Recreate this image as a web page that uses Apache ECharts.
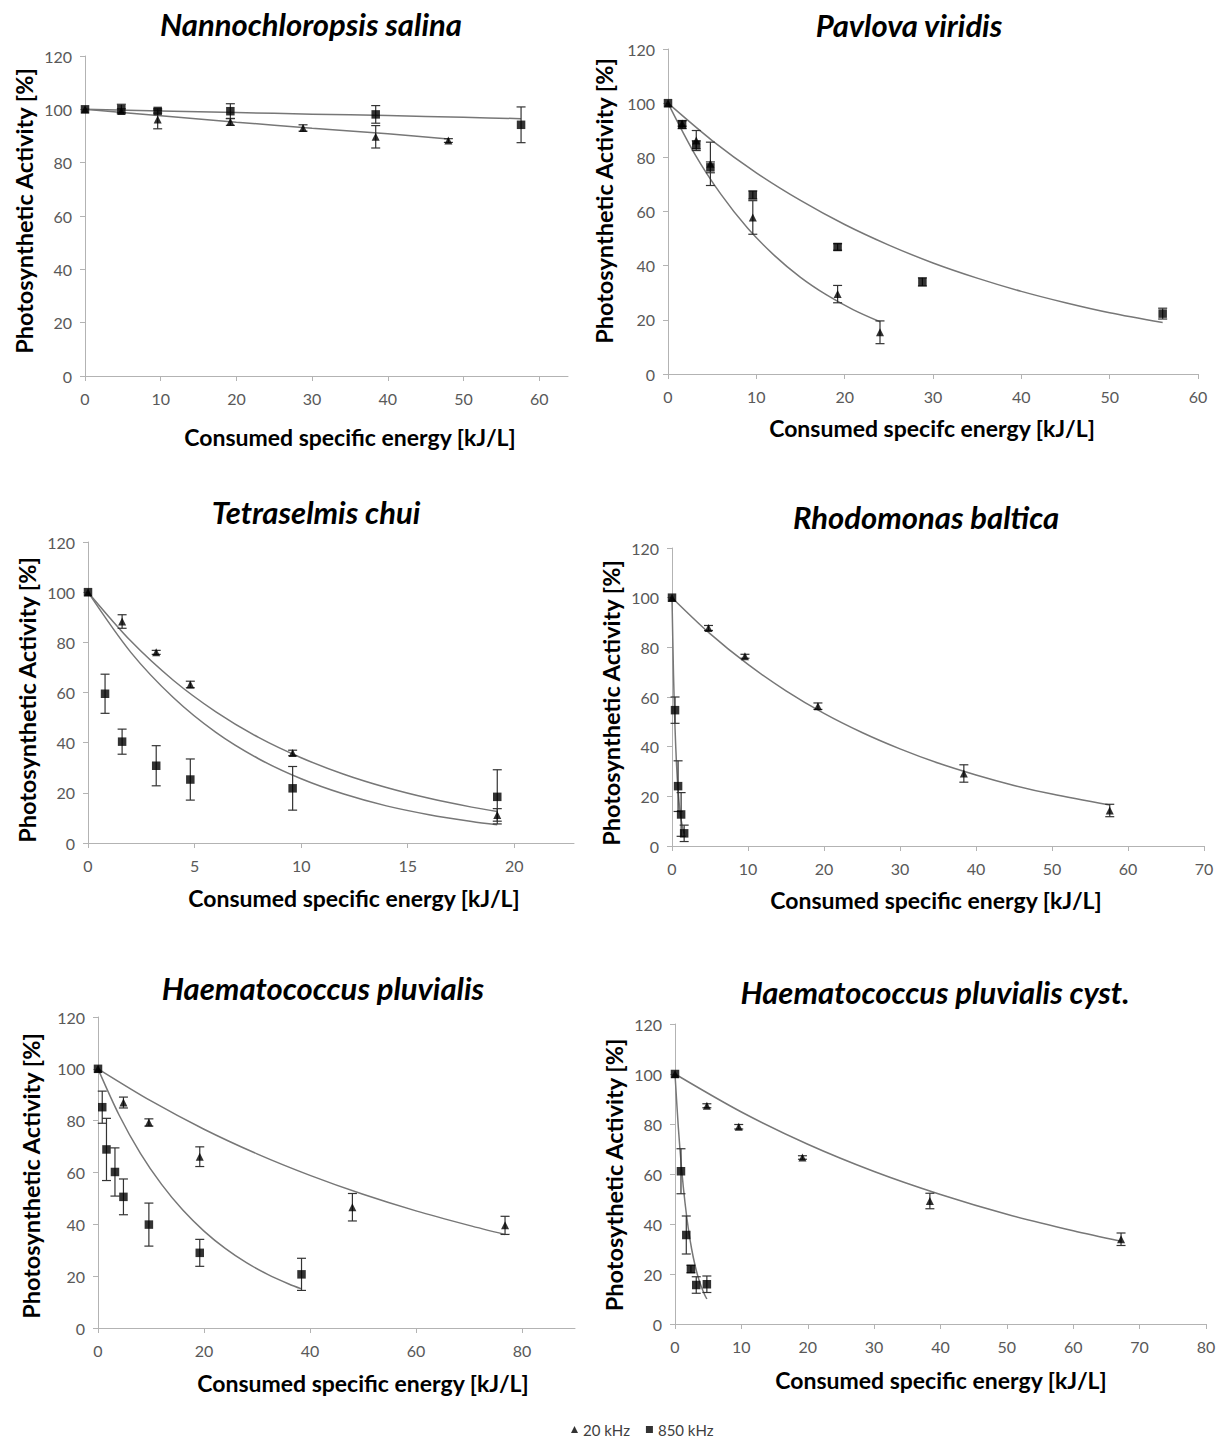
<!DOCTYPE html>
<html>
<head>
<meta charset="utf-8">
<script src="https://cdn.jsdelivr.net/npm/echarts@6/dist/echarts.min.js"></script>
<style>
html,body{margin:0;padding:0;background:#fff;}
#chart{width:1221px;height:1437px;}
</style>
</head>
<body>
<div id="chart"></div>
<script>
// ---------------- DATA ----------------
const legendNames = ['20 kHz', '850 kHz'];
const yTickLabels = [0, 20, 40, 60, 80, 100, 120];
const yAxisTitle = 'Photosynthetic Activity [%]';
const yAxisTitleCyst = 'Photosythetic Activity [%]';
const xAxisTitle = 'Consumed specific energy [kJ/L]';
const xAxisTitleP2 = 'Consumed specifc energy [kJ/L]';

// Panel 1: Nannochloropsis salina
const p1Title = 'Nannochloropsis salina';
const p1XTicks = [0, 10, 20, 30, 40, 50, 60];
const p1TriX = [0, 4.8, 9.6, 19.2, 28.8, 38.4, 48];
const p1TriY = [100, 99.4, 96.2, 95.3, 93.0, 89.7, 88.3];
const p1TriE = [0, 0.8, 3.5, 1.3, 1.2, 4.2, 0.7];
const p1SqX = [0, 4.8, 9.6, 19.2, 38.4, 57.6];
const p1SqY = [100, 100.1, 99.4, 99.3, 98.1, 94.2];
const p1SqE = [0, 1.8, 0.8, 2.8, 3.3, 6.7];
const p1TriFitX = [0, 10, 20, 30, 40, 48];
const p1TriFitY = [100, 97.6, 95.2, 92.9, 90.8, 88.9];
const p1SqFitX = [0, 10, 20, 30, 40, 50, 57.6];
const p1SqFitY = [100, 99.4, 98.8, 98.2, 97.7, 97.0, 96.5];

// Panel 2: Pavlova viridis
const p2Title = 'Pavlova viridis';
const p2XTicks = [0, 10, 20, 30, 40, 50, 60];
const p2TriX = [0, 1.6, 3.2, 4.8, 9.6, 19.2, 24];
const p2TriY = [100, 92.5, 86.2, 77.6, 57.8, 29.5, 15.4];
const p2TriE = [0, 1.0, 3.7, 8.0, 6.2, 3.2, 4.2];
const p2SqX = [0, 1.6, 3.2, 4.8, 9.6, 19.2, 28.8, 56];
const p2SqY = [100, 92.1, 84.6, 76.3, 66.1, 46.9, 34.0, 22.3];
const p2SqE = [0, 1.5, 1.5, 2.0, 1.5, 1.2, 1.5, 2.0];
const p2TriFitX = [0, 3, 6, 9, 12, 15, 18, 21, 24];
const p2TriFitY = [100, 81.4, 66.3, 53.9, 43.9, 35.7, 29.1, 23.7, 19.3];
const p2SqFitX = [0, 5, 10, 15, 20, 25, 30, 35, 40, 45, 50, 56];
const p2SqFitY = [100, 86.2, 74.3, 64.1, 55.2, 47.6, 41.0, 35.4, 30.5, 26.3, 22.6, 19.0];

// Panel 3: Tetraselmis chui
const p3Title = 'Tetraselmis chui';
const p3XTicks = [0, 5, 10, 15, 20];
const p3TriX = [0, 1.6, 3.2, 4.8, 9.6, 19.2];
const p3TriY = [100, 88.3, 76.0, 63.2, 35.9, 11.2];
const p3TriE = [0, 2.7, 0.8, 1.3, 1.1, 2.5];
const p3SqX = [0, 0.8, 1.6, 3.2, 4.8, 9.6, 19.2];
const p3SqY = [100, 59.5, 40.4, 30.8, 25.3, 21.8, 18.4];
const p3SqE = [0, 7.8, 5.0, 8.0, 8.2, 8.7, 10.8];
const p3TriFitX = [0, 2, 4, 6, 8, 10, 12, 14, 16, 18, 19.2];
const p3TriFitY = [100, 80.6, 64.9, 52.3, 42.1, 34.0, 27.4, 22.1, 17.8, 14.3, 12.6];
const p3SqFitX = [0, 2, 4, 6, 8, 10, 12, 14, 16, 18, 19.2];
const p3SqFitY = [100, 76.1, 58.0, 44.1, 33.6, 25.6, 19.5, 14.8, 11.3, 8.6, 7.3];

// Panel 4: Rhodomonas baltica
const p4Title = 'Rhodomonas baltica';
const p4XTicks = [0, 10, 20, 30, 40, 50, 60, 70];
const p4TriX = [0, 4.8, 9.6, 19.2, 38.4, 57.6];
const p4TriY = [100, 87.8, 76.4, 56.3, 29.2, 14.3];
const p4TriE = [0, 1.0, 0.8, 1.3, 3.5, 2.5];
const p4SqX = [0, 0.4, 0.8, 1.2, 1.6];
const p4SqY = [100, 54.7, 24.1, 12.7, 5.1];
const p4SqE = [0, 5.3, 10.2, 8.8, 3.3];
const p4TriFitX = [0, 5, 10, 15, 20, 25, 30, 35, 40, 45, 50, 57.6];
const p4TriFitY = [100, 85.5, 73.1, 62.5, 53.4, 45.7, 39.1, 33.4, 28.6, 24.4, 20.9, 16.5];
const p4SqFitX = [0, 0.2, 0.4, 0.6, 0.8, 1.0, 1.2, 1.4, 1.6];
const p4SqFitY = [100, 68.8, 47.3, 32.6, 22.4, 15.4, 10.6, 7.3, 5.0];

// Panel 5: Haematococcus pluvialis
const p5Title = 'Haematococcus pluvialis';
const p5XTicks = [0, 20, 40, 60, 80];
const p5TriX = [0, 4.8, 9.6, 19.2, 48, 76.8];
const p5TriY = [100, 87.0, 79.3, 66.1, 46.6, 39.6];
const p5TriE = [0, 2.1, 1.4, 3.8, 5.3, 3.5];
const p5SqX = [0, 0.8, 1.6, 3.2, 4.8, 9.6, 19.2, 38.4];
const p5SqY = [100, 85.2, 68.9, 60.2, 50.6, 39.9, 29.0, 20.7];
const p5SqE = [0, 6.2, 12.0, 9.3, 6.9, 8.3, 5.2, 6.2];
const p5TriFitX = [0, 10, 20, 30, 40, 50, 60, 70, 76.8];
const p5TriFitY = [100, 87.6, 76.7, 67.2, 58.9, 51.6, 45.2, 39.6, 36.1];
const p5SqFitX = [0, 4, 8, 12, 16, 20, 24, 28, 32, 36, 38.4];
const p5SqFitY = [100, 82.1, 67.4, 55.4, 45.5, 37.4, 30.7, 25.2, 20.7, 17.0, 15.1];

// Panel 6: Haematococcus pluvialis cyst.
const p6Title = 'Haematococcus pluvialis cyst.';
const p6XTicks = [0, 10, 20, 30, 40, 50, 60, 70, 80];
const p6TriX = [0, 4.8, 9.6, 19.2, 38.4, 67.2];
const p6TriY = [100, 87.3, 78.9, 66.6, 49.2, 33.9];
const p6TriE = [0, 0.8, 0.9, 0.7, 3.1, 2.5];
const p6SqX = [0, 0.9, 1.7, 2.4, 3.2, 4.8];
const p6SqY = [100, 61.1, 35.6, 22.0, 15.6, 15.9];
const p6SqE = [0, 9.0, 7.6, 1.5, 3.3, 3.3];
const p6TriFitX = [0, 10, 20, 30, 40, 50, 60, 67.2];
const p6TriFitY = [100, 84.8, 71.9, 61.0, 51.8, 43.9, 37.3, 33.1];
const p6SqFitX = [0, 0.5, 1, 1.5, 2, 2.5, 3, 3.5, 4, 4.5, 4.8];
const p6SqFitY = [100, 78.7, 61.9, 48.7, 38.3, 30.1, 23.7, 18.6, 14.7, 11.5, 10.0];

// ---------------- LAYOUT (positions & styles) ----------------
const panels = [
  {title: p1Title, xt: p1XTicks, max: 63.8, interval: 10, tri: [p1TriX, p1TriY, p1TriE], sq: [p1SqX, p1SqY, p1SqE], triFit: [p1TriFitX, p1TriFitY], sqFit: [p1SqFitX, p1SqFitY],
   grid: {left: 85, top: 56, width: 483, height: 320}, titlePos: [311, 24], yName: yAxisTitle, yNamePos: [24, 211], xName: xAxisTitle, xNamePos: [350, 437]},
  {title: p2Title, xt: p2XTicks, max: 60, interval: 10, tri: [p2TriX, p2TriY, p2TriE], sq: [p2SqX, p2SqY, p2SqE], triFit: [p2TriFitX, p2TriFitY], sqFit: [p2SqFitX, p2SqFitY],
   grid: {left: 668, top: 49, width: 530, height: 325}, titlePos: [909, 25], yName: yAxisTitle, yNamePos: [604, 201], xName: xAxisTitleP2, xNamePos: [932, 428]},
  {title: p3Title, xt: p3XTicks, max: 22.8, interval: 5, tri: [p3TriX, p3TriY, p3TriE], sq: [p3SqX, p3SqY, p3SqE], triFit: [p3TriFitX, p3TriFitY], sqFit: [p3SqFitX, p3SqFitY],
   grid: {left: 88, top: 542, width: 486, height: 301}, titlePos: [316, 512], yName: yAxisTitle, yNamePos: [27, 700], xName: xAxisTitle, xNamePos: [354, 898]},
  {title: p4Title, xt: p4XTicks, max: 70, interval: 10, tri: [p4TriX, p4TriY, p4TriE], sq: [p4SqX, p4SqY, p4SqE], triFit: [p4TriFitX, p4TriFitY], sqFit: [p4SqFitX, p4SqFitY],
   grid: {left: 672, top: 548, width: 532, height: 298}, titlePos: [926, 517], yName: yAxisTitle, yNamePos: [611, 703], xName: xAxisTitle, xNamePos: [936, 900]},
  {title: p5Title, xt: p5XTicks, max: 90, interval: 20, tri: [p5TriX, p5TriY, p5TriE], sq: [p5SqX, p5SqY, p5SqE], triFit: [p5TriFitX, p5TriFitY], sqFit: [p5SqFitX, p5SqFitY],
   grid: {left: 98, top: 1017, width: 477, height: 311}, titlePos: [323, 988], yName: yAxisTitle, yNamePos: [31, 1176], xName: xAxisTitle, xNamePos: [363, 1383]},
  {title: p6Title, xt: p6XTicks, max: 80, interval: 10, tri: [p6TriX, p6TriY, p6TriE], sq: [p6SqX, p6SqY, p6SqE], triFit: [p6TriFitX, p6TriFitY], sqFit: [p6SqFitX, p6SqFitY],
   grid: {left: 675, top: 1024, width: 531, height: 300}, titlePos: [935, 992], yName: yAxisTitleCyst, yNamePos: [614, 1175], xName: xAxisTitle, xNamePos: [941, 1380]}
];

const FONT = 'Lato, "Open Sans", sans-serif';
const AXIS_COLOR = '#b3b3b3';
const LABEL_COLOR = '#595959';
const FIT_COLOR = '#777777';
const ERR_COLOR = '#333333';

function zip3(a) { return a[0].map((x, i) => [x, a[1][i], a[2][i]]); }
function zip2(a) { return a[0].map((x, i) => [x, a[1][i]]); }

function errRender(params, api) {
  const x = api.value(0), y = api.value(1), e = api.value(2);
  if (!e) return null;
  const t = api.coord([x, y + e]);
  const b = api.coord([x, y - e]);
  const hw = 4.5;
  const st = {stroke: ERR_COLOR, lineWidth: 1.2};
  return {type: 'group', children: [
    {type: 'line', shape: {x1: t[0], y1: t[1], x2: b[0], y2: b[1]}, style: st},
    {type: 'line', shape: {x1: t[0] - hw, y1: t[1], x2: t[0] + hw, y2: t[1]}, style: st},
    {type: 'line', shape: {x1: b[0] - hw, y1: b[1], x2: b[0] + hw, y2: b[1]}, style: st}
  ]};
}

const grids = [], xAxes = [], yAxes = [], series = [], graphics = [];
panels.forEach((p, i) => {
  grids.push(Object.assign({containLabel: false}, p.grid));
  xAxes.push({
    type: 'value', gridIndex: i, min: 0, max: p.max, interval: p.interval,
    axisLine: {show: true, onZero: false, lineStyle: {color: AXIS_COLOR, width: 1}},
    axisTick: {show: true, length: 5, inside: false, customValues: p.xt, lineStyle: {color: AXIS_COLOR}},
    axisLabel: {customValues: p.xt, margin: 14, color: LABEL_COLOR, fontSize: 16, fontFamily: FONT},
    splitLine: {show: false}
  });
  yAxes.push({
    type: 'value', gridIndex: i, min: 0, max: 120, interval: 20,
    axisLine: {show: true, lineStyle: {color: AXIS_COLOR, width: 1}},
    axisTick: {show: true, length: 5, inside: false, customValues: yTickLabels, lineStyle: {color: AXIS_COLOR}},
    axisLabel: {customValues: yTickLabels, margin: 13, color: LABEL_COLOR, fontSize: 16, fontFamily: FONT},
    splitLine: {show: false}
  });
  // trend lines
  series.push({type: 'line', name: 'fit20_' + i, xAxisIndex: i, yAxisIndex: i, data: zip2(p.triFit), smooth: 0.3,
    showSymbol: false, symbol: 'none', lineStyle: {color: FIT_COLOR, width: 1.5}, z: 2, silent: true});
  series.push({type: 'line', name: 'fit850_' + i, xAxisIndex: i, yAxisIndex: i, data: zip2(p.sqFit), smooth: 0.3,
    showSymbol: false, symbol: 'none', lineStyle: {color: FIT_COLOR, width: 1.5}, z: 2, silent: true});
  // error bars
  series.push({type: 'custom', name: 'err20_' + i, xAxisIndex: i, yAxisIndex: i, data: zip3(p.tri), renderItem: errRender,
    encode: {x: 0, y: 1}, z: 3, silent: true, clip: false});
  series.push({type: 'custom', name: 'err850_' + i, xAxisIndex: i, yAxisIndex: i, data: zip3(p.sq), renderItem: errRender,
    encode: {x: 0, y: 1}, z: 3, silent: true, clip: false});
  // markers
  series.push({type: 'scatter', name: legendNames[0], xAxisIndex: i, yAxisIndex: i, data: zip2([p.tri[0], p.tri[1]]),
    symbol: 'triangle', symbolSize: 8, itemStyle: {color: '#000'}, z: 5});
  series.push({type: 'scatter', name: legendNames[1], xAxisIndex: i, yAxisIndex: i, data: zip2([p.sq[0], p.sq[1]]),
    symbol: 'rect', symbolSize: 8.5, itemStyle: {color: '#000'}, z: 5});
  // titles / axis names
  graphics.push({type: 'text', x: p.titlePos[0], y: p.titlePos[1], style: {text: p.title, align: 'center', verticalAlign: 'middle',
    font: 'italic bold 31px ' + FONT, fill: '#000'}});
  graphics.push({type: 'text', x: p.xNamePos[0], y: p.xNamePos[1], style: {text: p.xName, align: 'center', verticalAlign: 'middle',
    font: 'bold 23px ' + FONT, fill: '#000'}});
  graphics.push({type: 'text', x: p.yNamePos[0], y: p.yNamePos[1], rotation: Math.PI / 2, style: {text: p.yName, align: 'center', verticalAlign: 'middle',
    font: 'bold 23.5px ' + FONT, fill: '#000'}});
});

const chart = echarts.init(document.getElementById('chart'), null, {renderer: 'svg'});
chart.setOption({
  backgroundColor: '#fff',
  animation: false,
  grid: grids,
  xAxis: xAxes,
  yAxis: yAxes,
  legend: {
    data: [{name: legendNames[0], icon: 'triangle'}, {name: legendNames[1], icon: 'rect'}],
    left: 566, top: 1416, itemWidth: 7, itemHeight: 7, itemGap: 16,
    textStyle: {fontFamily: FONT, fontSize: 15, color: '#404040', lineHeight: 17},
    selectedMode: false
  },
  graphic: graphics,
  series: series
});
</script>
</body>
</html>
